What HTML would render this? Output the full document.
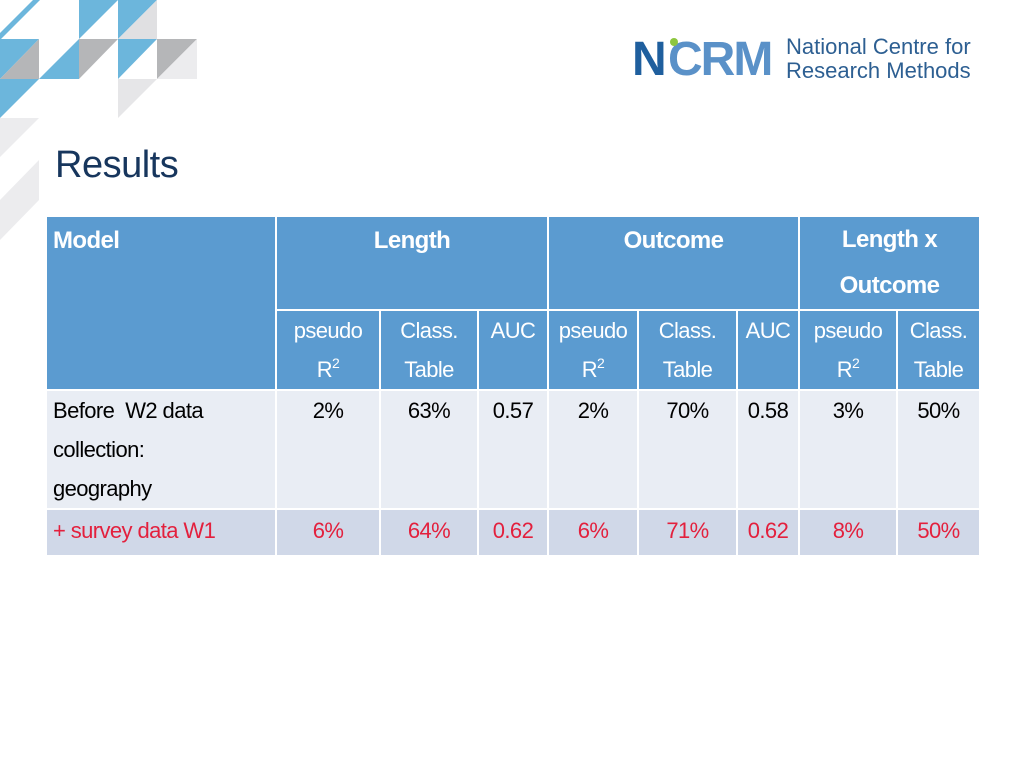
<!DOCTYPE html>
<html><head><meta charset="utf-8"><style>
body{margin:0;width:1024px;height:768px;background:#fff;position:relative;overflow:hidden;font-family:"Liberation Sans",sans-serif}
#title{position:absolute;left:55px;top:144px;font-size:38px;color:#17365d;letter-spacing:-0.5px}
table{position:absolute;left:45px;top:215px;border-collapse:collapse;table-layout:fixed;font-size:22px;letter-spacing:-0.6px}
td{border:2px solid #fff;padding:0 6px;vertical-align:top;box-sizing:border-box}
.h td{background:#5b9bd0;color:#fff}
.hb{font-weight:bold;font-size:24px}
.c{text-align:center}
.r1 td{background:#e9edf4;color:#000}
.r2 td{background:#d0d8e8;color:#e3203d}
sup{font-size:14px;vertical-align:baseline;position:relative;top:-9px;line-height:0}
</style></head><body>
<svg width="220" height="240" style="position:absolute;left:0;top:0">
<polygon points="0,33 33,0 40,0 0,40" fill="#6cb6dc"/>
<polygon points="79,0 118,0 79,39" fill="#6cb6dc"/>
<polygon points="118,0 157,0 118,39" fill="#6cb6dc"/>
<polygon points="157,0 157,39 118,39" fill="#e0e0e2"/>
<polygon points="0,39 39,39 0,79" fill="#6cb6dc"/>
<polygon points="39,39 39,79 0,79" fill="#b5b6b8"/>
<polygon points="79,39 79,79 39,79" fill="#6cb6dc"/>
<polygon points="79,39 118,39 79,79" fill="#b5b6b8"/>
<polygon points="118,39 157,39 118,79" fill="#6cb6dc"/>
<polygon points="157,39 197,39 157,79" fill="#b5b6b8"/>
<polygon points="197,39 197,79 157,79" fill="#ececee"/>
<polygon points="0,79 39,79 0,118" fill="#6cb6dc"/>
<polygon points="118,79 157,79 118,118" fill="#e6e6e8"/>
<polygon points="0,118 39,118 0,157" fill="#ececee"/>
<polygon points="39,160 39,200 0,240 0,200" fill="#ececee"/>
</svg>
<div style="position:absolute;left:632px;top:36px;height:46px">
<span style="position:absolute;left:0;top:-4px;font-size:48px;font-weight:bold;color:#1f5f9e;letter-spacing:-2px">N</span>
<span style="position:absolute;left:36px;top:-4px;font-size:48px;font-weight:bold;color:#5a91c8;letter-spacing:-2px">CRM</span>
<span style="position:absolute;left:38px;top:2px;width:8px;height:8px;border-radius:50%;background:#8dc63f"></span>
<div style="position:absolute;left:154px;top:-1px;font-size:22px;line-height:24px;color:#2d5f92;white-space:nowrap;letter-spacing:0">National Centre for<br>Research Methods</div>
</div>
<div id="title">Results</div>
<table>
<colgroup><col style="width:230px"><col style="width:104px"><col style="width:98px"><col style="width:70px"><col style="width:90px"><col style="width:99px"><col style="width:62px"><col style="width:98px"><col style="width:83px"></colgroup>
<tr class="h" style="height:93px;line-height:47px"><td class="hb" rowspan="2">Model</td><td class="hb c" colspan="3">Length</td><td class="hb c" colspan="3">Outcome</td><td class="hb c" colspan="2" style="line-height:46px">Length x<br>Outcome</td></tr>
<tr class="h" style="height:80px;line-height:39px"><td class="c">pseudo<br>R<sup>2</sup></td><td class="c">Class.<br>Table</td><td class="c">AUC</td><td class="c">pseudo<br>R<sup>2</sup></td><td class="c">Class.<br>Table</td><td class="c">AUC</td><td class="c">pseudo<br>R<sup>2</sup></td><td class="c">Class.<br>Table</td></tr>
<tr class="r1" style="height:118px;line-height:39px"><td>Before&nbsp; W2 data<br>collection:<br>geography</td><td class="c">2%</td><td class="c">63%</td><td class="c">0.57</td><td class="c">2%</td><td class="c">70%</td><td class="c">0.58</td><td class="c">3%</td><td class="c">50%</td></tr>
<tr class="r2" style="height:47px;line-height:42px"><td>+ survey data W1</td><td class="c">6%</td><td class="c">64%</td><td class="c">0.62</td><td class="c">6%</td><td class="c">71%</td><td class="c">0.62</td><td class="c">8%</td><td class="c">50%</td></tr>
</table>
</body></html>
